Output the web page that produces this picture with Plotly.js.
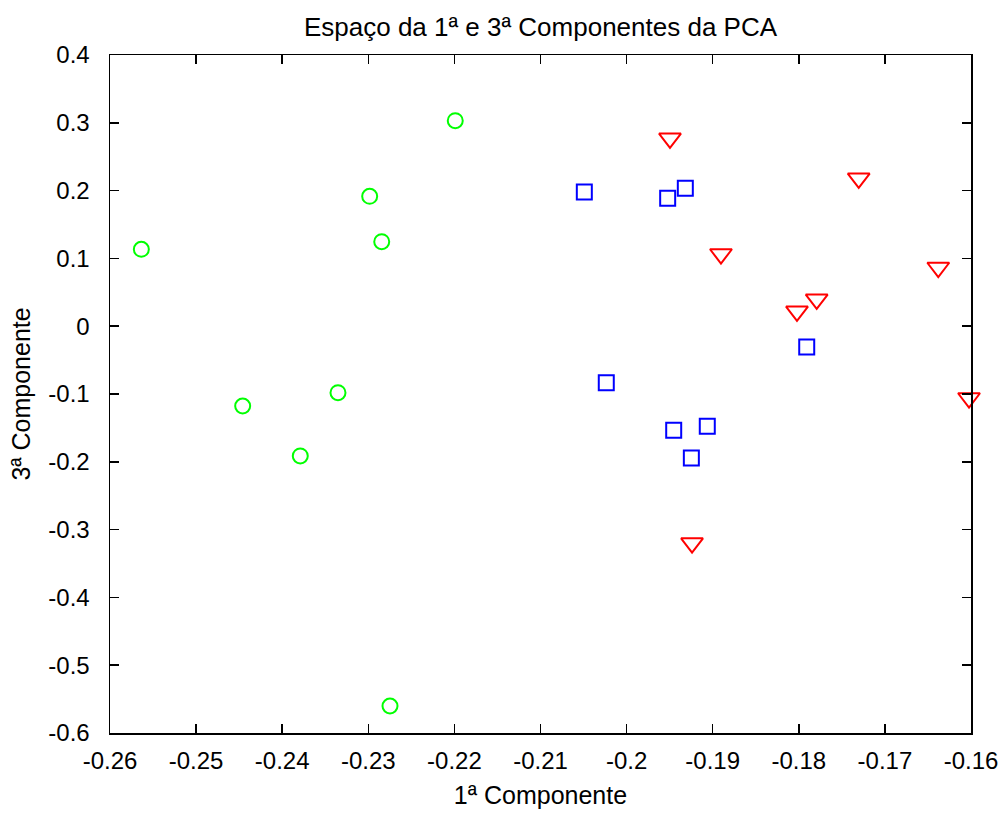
<!DOCTYPE html>
<html>
<head>
<meta charset="utf-8">
<script src="https://cdn.plot.ly/plotly-3.0.1.min.js"></script>
<style>html,body{margin:0;padding:0;background:#fff;}#chart{width:1000px;height:814px;}</style>
</head>
<body>
<div id="chart"></div>
<script>
// Group 1 (green circles)
const greenX = [-0.25636, -0.21990, -0.22984, -0.22844, -0.24459, -0.23352, -0.23790, -0.22748];
const greenY = [0.1134, 0.3031, 0.1916, 0.1246, -0.1177, -0.0981, -0.1914, -0.5602];
// Group 2 (blue squares)
const blueX = [-0.20491, -0.19523, -0.19318, -0.17908, -0.20236, -0.19453, -0.19063, -0.19248];
const blueY = [0.1979, 0.1886, 0.2034, -0.0307, -0.0833, -0.1535, -0.1476, -0.1944];
// Group 3 (red down-triangles)
const redX = [-0.19496, -0.17304, -0.18904, -0.16380, -0.17792, -0.18021, -0.16023, -0.19240];
const redY = [0.2771, 0.2181, 0.1065, 0.0866, 0.0397, 0.0220, -0.1059, -0.3198];

const xTickVals = [-0.26, -0.25, -0.24, -0.23, -0.22, -0.21, -0.2, -0.19, -0.18, -0.17, -0.16];
const xTickText = ["-0.26", "-0.25", "-0.24", "-0.23", "-0.22", "-0.21", "-0.2", "-0.19", "-0.18", "-0.17", "-0.16"];
const yTickVals = [0.4, 0.3, 0.2, 0.1, 0, -0.1, -0.2, -0.3, -0.4, -0.5, -0.6];
const yTickText = ["0.4", "0.3", "0.2", "0.1", "0", "-0.1", "-0.2", "-0.3", "-0.4", "-0.5", "-0.6"];

const titleText = "Espaço da 1ª e 3ª Componentes da PCA";
const xTitle = "1ª Componente";
const yTitle = "3ª Componente";

const FONT = "'Liberation Sans', Arial, sans-serif";

const traces = [
  {x: greenX, y: greenY, type: 'scatter', mode: 'markers', name: 'g', cliponaxis: false,
   marker: {symbol: 'circle-open', size: 15, color: '#00ff00', line: {width: 2, color: '#00ff00'}}},
  {x: blueX, y: blueY, type: 'scatter', mode: 'markers', name: 'b', cliponaxis: false,
   marker: {symbol: 'square-open', size: 15, color: '#0000ff', line: {width: 2, color: '#0000ff'}}},
  {x: redX, y: redY, type: 'scatter', mode: 'markers', name: 'r', cliponaxis: false,
   marker: {symbol: 'triangle-down-open', size: 19, color: '#ff0000', line: {width: 2, color: '#ff0000'}}}
];

const axisCommon = {
  showgrid: false, zeroline: false, showline: true, linecolor: '#000', linewidth: 1.5,
  mirror: 'ticks', ticks: 'inside', ticklen: 9, tickwidth: 1.5, tickcolor: '#000',
  tickfont: {family: FONT, size: 24, color: '#000'}, tickmode: 'array'
};

const layout = {
  width: 1000, height: 814,
  paper_bgcolor: '#fff', plot_bgcolor: '#fff',
  showlegend: false,
  margin: {l: 110, r: 29, t: 55, b: 81, pad: 0},
  font: {family: FONT, size: 24, color: '#000'},
  title: {text: titleText, font: {family: FONT, size: 26, color: '#000'},
          x: 0.5, xref: 'paper', xanchor: 'center', y: 1 - 27/814, yref: 'container', yanchor: 'middle'},
  xaxis: Object.assign({}, axisCommon, {
    range: [-0.26, -0.16], tickvals: xTickVals, ticktext: xTickText,
    ticklabelstandoff: 6,
    title: {text: xTitle, font: {family: FONT, size: 25, color: '#000'}, standoff: 13}
  }),
  yaxis: Object.assign({}, axisCommon, {
    range: [-0.6, 0.4], tickvals: yTickVals, ticktext: yTickText,
    ticklabelstandoff: 14,
    title: {text: yTitle, font: {family: FONT, size: 25, color: '#000'}, standoff: 10}
  })
};

Plotly.newPlot('chart', traces, layout, {staticPlot: true, displayModeBar: false});
</script>
</body>
</html>
